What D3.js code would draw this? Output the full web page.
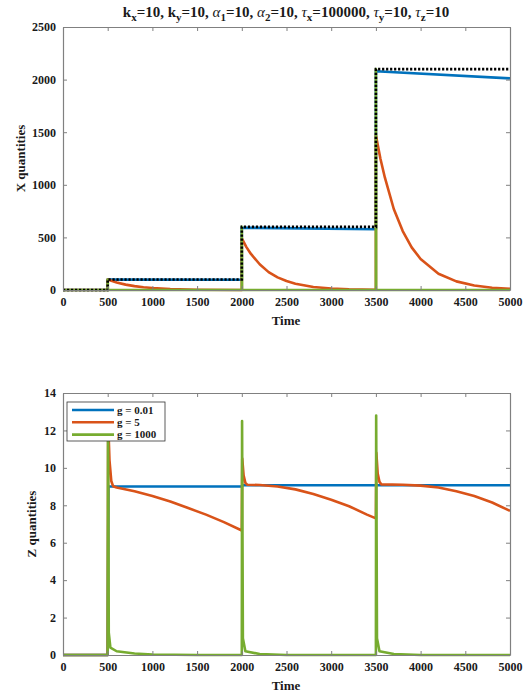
<!DOCTYPE html>
<html><head><meta charset="utf-8">
<script src="https://cdn.jsdelivr.net/npm/d3@7"></script>
<style>body{margin:0;background:#fff}svg{display:block}text{font-family:"Liberation Serif","Times New Roman",serif;font-weight:bold}</style>
</head><body>
<script>
// ---------- DATA ----------
const xTicks = [0,500,1000,1500,2000,2500,3000,3500,4000,4500,5000];
const yTicksTop = [0,500,1000,1500,2000,2500];
const yTicksBot = [0,2,4,6,8,10,12,14];
const seriesNames = ["g = 0.01","g = 5","g = 1000"];
const seriesColors = ["#0072BD","#D95319","#77AC30"];

// top panel: X quantities
const topTarget = [[0,0],[500,0],[500,100],[2000,100],[2000,600],[3500,600],[3500,2100],[5000,2100]];
const topBlue = [[0,0],[500,0],[500,100],[2000,97],[2000,592],[3500,578],[3500,2080],[5000,2012]];
const topOrange = [[0,0],[500,0],[500,100],[550,85],[600,72],[700,51],[800,37],[900,26],[1000,19],[1200,10],[1500,3],[2000,0],
  [2000,490],[2050,410],[2100,345],[2200,245],[2300,170],[2400,120],[2500,85],[2600,60],[2800,28],[3000,14],[3200,6],[3500,2],
  [3500,1470],[3550,1250],[3600,1070],[3700,770],[3800,560],[3900,405],[4000,295],[4200,155],[4400,82],[4600,43],[4800,22],[5000,12]];
const topGreen = [[0,0],[500,0],[500,100],[503,0],[2000,0],[2000,600],[2003,0],[3500,0],[3500,2100],[3503,0],[5000,0]];

// bottom panel: Z quantities
const botBlue = [[0,0],[500,0],[508,9.0],[2000,9.0],[2008,9.07],[5000,9.07]];
const botOrange = [[0,0],[500,0],[505,12.5],[520,10.4],[540,9.3],[560,9.02],[600,8.95],[800,8.75],[1000,8.5],[1200,8.2],[1400,7.85],[1600,7.5],[1800,7.1],[2000,6.65],
  [2005,10.5],[2020,9.6],[2040,9.2],[2060,9.1],[2200,9.08],[2400,9.0],[2600,8.85],[2800,8.6],[3000,8.3],[3200,7.95],[3400,7.5],[3500,7.3],
  [3505,10.8],[3520,9.7],[3540,9.25],[3560,9.12],[3800,9.1],[4000,9.05],[4200,8.95],[4400,8.75],[4600,8.5],[4800,8.15],[5000,7.7]];
const botGreen = [[0,0],[500,0],[504,13.0],[512,1.2],[530,0.4],[600,0.2],[800,0.08],[1000,0.03],[1500,0],[2000,0],
  [2003,12.5],[2012,0.9],[2040,0.2],[2200,0.05],[2500,0],[3500,0],
  [3503,12.8],[3512,0.9],[3540,0.2],[3700,0.05],[4000,0],[5000,0]];

// ---------- DRAW ----------
const W=530,H=694;
const svg=d3.select("body").append("svg").attr("width",W).attr("height",H);
const axisCol="#808080", textCol="#1a1a1a";
const fmt=d3.format("d");

function panel(top,bottom,ymax,yticks,ylabel,ylabX,series,target){
  const x=d3.scaleLinear().domain([0,5000]).range([63,510]);
  const y=d3.scaleLinear().domain([0,ymax]).range([bottom,top]);
  const g=svg.append("g");
  const line=d3.line().x(d=>x(d[0])).y(d=>y(d[1]));
  series.forEach((s,i)=>{
    g.append("path").attr("d",line(s)).attr("fill","none").attr("stroke",seriesColors[i])
     .attr("stroke-width",2.6).attr("stroke-linejoin","round");
  });
  if(target){
    g.append("path").attr("d",line(target)).attr("fill","none").attr("stroke","#000")
     .attr("stroke-width",2.6).attr("stroke-dasharray","2.2,1.8");
  }
  const gx=svg.append("g").attr("transform",`translate(0,${bottom})`)
    .call(d3.axisBottom(x).tickValues(xTicks).tickFormat(fmt).tickSizeInner(-4).tickSizeOuter(0).tickPadding(7));
  const gxt=svg.append("g").attr("transform",`translate(0,${top})`)
    .call(d3.axisTop(x).tickValues(xTicks).tickSizeInner(-4).tickSizeOuter(0).tickFormat(""));
  const gy=svg.append("g").attr("transform",`translate(63,0)`)
    .call(d3.axisLeft(y).tickValues(yticks).tickFormat(fmt).tickSizeInner(-4).tickSizeOuter(0).tickPadding(7));
  const gyr=svg.append("g").attr("transform",`translate(510,0)`)
    .call(d3.axisRight(y).tickValues(yticks).tickSizeInner(-4).tickSizeOuter(0).tickFormat(""));
  [gx,gxt,gy,gyr].forEach(a=>{
    a.attr("font-family",null);
    a.selectAll("path").attr("stroke",axisCol).attr("stroke-width",1.2);
    a.selectAll("line").attr("stroke",axisCol);
    a.selectAll("text").attr("fill",textCol).style("font-size","12px");
  });
  svg.append("text").attr("x",286).attr("y",bottom+35).attr("text-anchor","middle")
    .style("font-size","13px").attr("fill",textCol).text("Time");
  svg.append("text").attr("transform",`translate(${ylabX},${(top+bottom)/2}) rotate(-90)`).attr("text-anchor","middle")
    .style("font-size","13px").attr("fill",textCol).text(ylabel);
  return {x,y};
}

panel(27,290,2500,yTicksTop,"X quantities",25,[topBlue,topOrange,topGreen],topTarget);
panel(393,655,14,yTicksBot,"Z quantities",36,[botBlue,botOrange,botGreen],null);

// legend
const lg=svg.append("g").attr("transform","translate(67,402)");
lg.append("rect").attr("width",98).attr("height",39).attr("fill","#fff").attr("stroke","#333").attr("stroke-width",0.8);
seriesNames.forEach((n,i)=>{
  const yy=8+i*12.3;
  lg.append("line").attr("x1",5).attr("x2",47).attr("y1",yy).attr("y2",yy).attr("stroke",seriesColors[i]).attr("stroke-width",2.6);
  lg.append("text").attr("x",50).attr("y",yy+3.8).style("font-size","11px").attr("fill",textCol).text(n);
});

// title with subscripts
const titleParts=[["k",0],["x",1],["=10, k",0],["y",1],["=10, ",0],["α",2],["1",1],["=10, ",0],["α",2],["2",1],["=10, ",0],["τ",2],["x",1],["=100000, ",0],["τ",2],["y",1],["=10, ",0],["τ",2],["z",1],["=10",0]];
const tt=svg.append("text").attr("x",286).attr("y",17).attr("text-anchor","middle").style("font-size","15px").attr("fill",textCol);
let sub=false;
titleParts.forEach(([s,t])=>{
  const ts=tt.append("tspan").text(s);
  if(t===1){ts.attr("dy",sub?0:4).style("font-size","11px");sub=true;}
  else{ if(sub){ts.attr("dy",-4);sub=false;} if(t===2) ts.style("font-style","italic").style("font-weight","normal"); }
});
</script>
</body></html>
